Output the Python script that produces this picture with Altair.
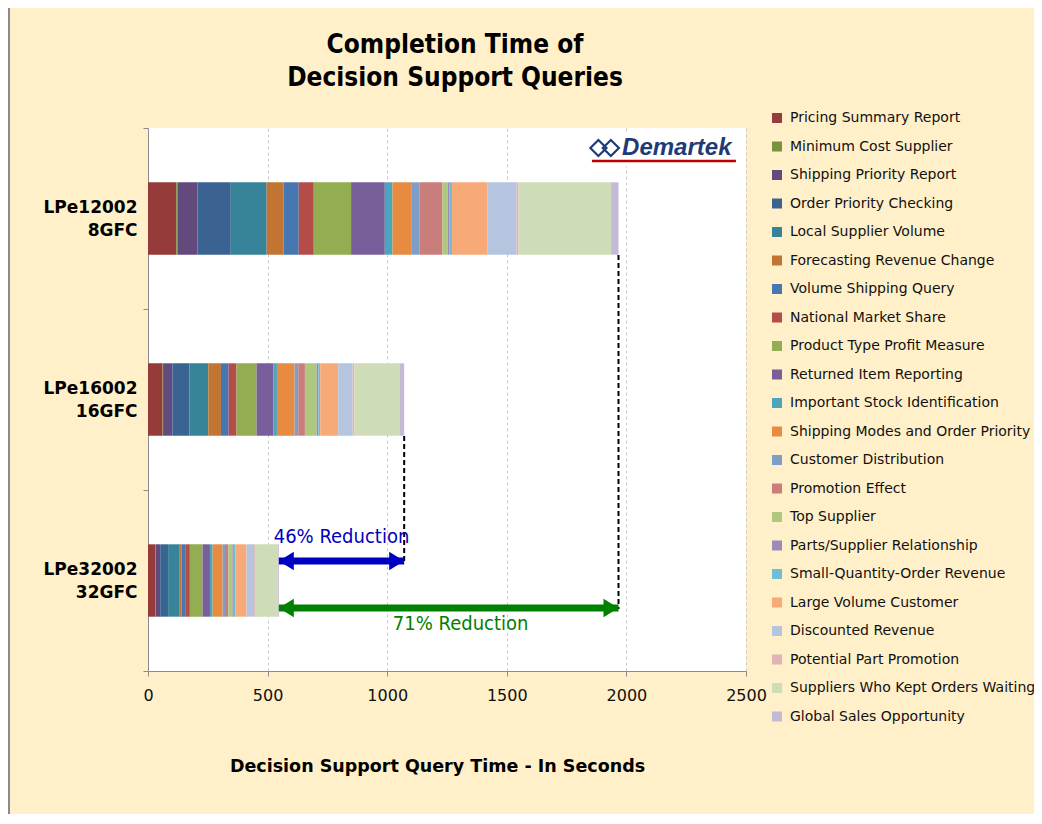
import altair as alt
import pandas as pd

# ---------------- data ----------------
servers = ["LPe12002|8GFC", "LPe16002|16GFC", "LPe32002|32GFC"]
queries = [
    "Pricing Summary Report", "Minimum Cost Supplier", "Shipping Priority Report",
    "Order Priority Checking", "Local Supplier Volume", "Forecasting Revenue Change",
    "Volume Shipping Query", "National Market Share", "Product Type Profit Measure",
    "Returned Item Reporting", "Important Stock Identification",
    "Shipping Modes and Order Priority", "Customer Distribution", "Promotion Effect",
    "Top Supplier", "Parts/Supplier Relationship", "Small-Quantity-Order Revenue",
    "Large Volume Customer", "Discounted Revenue", "Potential Part Promotion",
    "Suppliers Who Kept Orders Waiting", "Global Sales Opportunity",
]
colors = [
    "#953b39", "#77933c", "#624b7c", "#3b6392", "#37849a", "#c27533",
    "#4677b0", "#b44c4a", "#93ae52", "#795f9a", "#4aa5bf", "#e68b40",
    "#7f9dc9", "#ca7e7c", "#aec87e", "#9c8ab8", "#72bcd4", "#f7a978",
    "#b5c4df", "#e0b3b5", "#cfdcb8", "#c4bad6",
]
t_8gfc = [118, 7, 82, 139, 150, 71, 63, 63, 156, 141, 32, 81, 33, 95, 22, 6, 12, 149, 121, 8, 387, 31]
t_16gfc = [61, 2, 39, 71, 79, 53, 32, 33, 84, 70, 15, 74, 15, 28, 49, 7, 8, 75, 60, 7, 191, 18]
t_32gfc = [31, 1, 19, 33, 46, 11, 17, 17, 53, 31, 11, 42, 10, 14, 17, 6, 6, 47, 31, 4, 96, 4]
x_ticks = [0, 500, 1000, 1500, 2000, 2500]
title_lines = ["Completion Time of", "Decision Support Queries"]
x_title = "Decision Support Query Time - In Seconds"
label_46 = "46% Reduction"
label_71 = "71% Reduction"
logo_text = "Demartek"

series = [t_8gfc, t_16gfc, t_32gfc]
rows = []
for s, vals in zip(servers, series):
    for k, (q, v) in enumerate(zip(queries, vals)):
        rows.append({"server": s, "query": q, "seconds": v, "k": k})
df = pd.DataFrame(rows)
totals = [sum(v) for v in series]

# ---------------- styles ----------------
BG = "#fff0c9"
FONT = "DejaVu Sans"
NARROW = "Liberation Sans Narrow, DejaVu Sans Condensed, Liberation Sans"
W, H = 598, 543

xscale = alt.Scale(domain=[0, 2500], nice=False, zero=True)
yscale = alt.Scale(domain=servers, paddingInner=0, paddingOuter=0)

bars = alt.Chart(df).mark_bar(opacity=1, height={"band": 0.4}).encode(
    x=alt.X("seconds:Q", stack="zero", scale=xscale,
            axis=alt.Axis(values=x_ticks, format="d", title=x_title, labelFlush=False,
                          grid=True, gridDash=[3, 3], gridColor="#c8c8c8",
                          domainColor="#8c8c8c", tickColor="#8c8c8c", tickSize=5,
                          labelFont=FONT, labelFontSize=16, labelColor="#111",
                          labelPadding=11, titleFont=FONT, titleFontSize=17.5,
                          titleFontWeight="bold", titleColor="#000", titlePadding=54,
                          titleX=289, titleAlign="center")),
    y=alt.Y("server:N", scale=yscale, sort=servers,
            axis=alt.Axis(title=None, labelExpr="split(datum.label, '|')",
                          labelFont=FONT, labelFontSize=17, labelFontWeight="bold",
                          labelColor="#000", labelLineHeight=23, labelOffset=-11.5,
                          tickBand="extent", tickSize=5, tickColor="#8c8c8c",
                          domainColor="#8c8c8c", labelPadding=6, grid=False)),
    color=alt.Color("query:N", scale=alt.Scale(domain=queries, range=colors),
                    legend=alt.Legend(title=None, orient="none", legendX=622, legendY=-17,
                                      symbolType="square", symbolSize=100,
                                      symbolStrokeWidth=0, labelFont=FONT,
                                      labelFontSize=14, labelColor="#111",
                                      labelOffset=6, rowPadding=14.5, padding=0,
                                      labelLimit=400)),
    order=alt.Order("k:Q"),
)

# dashed connectors
dash1 = alt.Chart(pd.DataFrame({"x": [totals[0]]})).mark_rule(
    color="#000", strokeWidth=2, strokeDash=[5, 3]).encode(
    x=alt.X("x:Q", scale=xscale), y=alt.value(127), y2=alt.value(481))
dash2 = alt.Chart(pd.DataFrame({"x": [totals[1]]})).mark_rule(
    color="#000", strokeWidth=2, strokeDash=[5, 3]).encode(
    x=alt.X("x:Q", scale=xscale), y=alt.value(308), y2=alt.value(434))

# arrows
def arrow(x0, x1, yp, col):
    d = pd.DataFrame({"x0": [x0], "x1": [x1]})
    shaft = alt.Chart(d).mark_rule(color=col, strokeWidth=7).encode(
        x=alt.X("x0:Q", scale=xscale), x2="x1:Q", y=alt.value(yp))
    left = alt.Chart(d).mark_point(shape="M0,0L1,-0.62L1,0.62Z", filled=True,
                                   color=col, opacity=1, size=900).encode(
        x=alt.X("x0:Q", scale=xscale), y=alt.value(yp))
    right = alt.Chart(d).mark_point(shape="M0,0L-1,-0.62L-1,0.62Z", filled=True,
                                    color=col, opacity=1, size=900).encode(
        x=alt.X("x1:Q", scale=xscale), y=alt.value(yp))
    return shaft + left + right

blue = arrow(totals[2], totals[1], 433, "#0000c0")
green = arrow(totals[2], totals[0], 480, "#008000")

t46 = alt.Chart(pd.DataFrame({"x": [(totals[2] + totals[1]) / 2], "t": [label_46]})).mark_text(
    font=NARROW, fontSize=20, color="#0000c0", baseline="middle").encode(
    x=alt.X("x:Q", scale=xscale), y=alt.value(409), text="t:N")
t71 = alt.Chart(pd.DataFrame({"x": [(totals[2] + totals[0]) / 2 + 50], "t": [label_71]})).mark_text(
    font=NARROW, fontSize=20, color="#008000", baseline="middle").encode(
    x=alt.X("x:Q", scale=xscale), y=alt.value(496), text="t:N")

# logo
logo_bg = alt.Chart(pd.DataFrame({"a": [1830], "b": [2480]})).mark_rect(color="white").encode(
    x=alt.X("a:Q", scale=xscale), x2="b:Q", y=alt.value(4), y2=alt.value(38))
logo_txt = alt.Chart(pd.DataFrame({"x": [1982], "t": [logo_text]})).mark_text(
    font="Liberation Sans", fontSize=24, fontWeight="bold", fontStyle="italic", color="#1d3b78",
    align="left", baseline="middle").encode(
    x=alt.X("x:Q", scale=xscale), y=alt.value(20), text="t:N")
logo_dia = alt.Chart(pd.DataFrame({"x": [1883, 1935]})).mark_point(
    shape="diamond", filled=False, color="#1d3b78", strokeWidth=2.2, size=260, opacity=1).encode(
    x=alt.X("x:Q", scale=xscale), y=alt.value(20))
logo_line = alt.Chart(pd.DataFrame({"a": [1856], "b": [2458]})).mark_rule(
    color="#c00000", strokeWidth=2.5).encode(
    x=alt.X("a:Q", scale=xscale), x2="b:Q", y=alt.value(33))

# chart title as text
title = alt.Chart(pd.DataFrame({"t": title_lines, "yy": [-83, -50]})).mark_text(
    font=NARROW, fontSize=26, fontWeight="bold", color="#000", baseline="middle").encode(
    x=alt.value(307), y=alt.Y("yy:Q", scale=None), text="t:N")

# frame border (left and top)
border_l = alt.Chart(pd.DataFrame({"a": [0]})).mark_rule(color="#8a8a8a", strokeWidth=2).encode(
    x=alt.value(-139), y=alt.value(-121), y2=alt.value(700))
border_t = alt.Chart(pd.DataFrame({"a": [0]})).mark_rule(color="#8a8a8a", strokeWidth=2).encode(
    x=alt.value(-140), x2=alt.value(886), y=alt.value(-121))

chart = alt.layer(
    bars, dash1, dash2, blue, green, t46, t71,
    logo_bg, logo_txt, logo_dia, logo_line, title, border_l, border_t,
).properties(
    width=W, height=H,
    background=BG,
    padding={"left": 140, "top": 120, "right": 288, "bottom": 143},
    autosize=alt.AutoSizeParams(type="none"),
).configure_view(stroke=None, fill="white")

chart.save("out.html", embed_options={"renderer": "svg", "actions": False})
